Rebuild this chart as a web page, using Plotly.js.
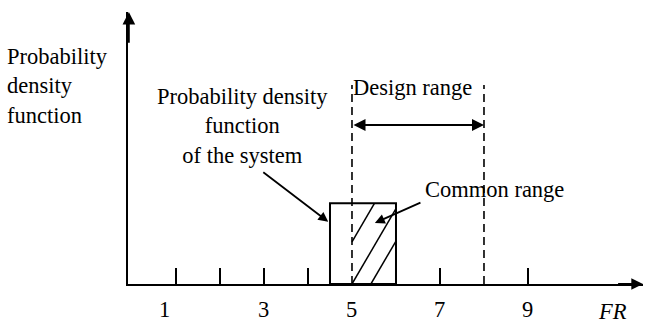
<!DOCTYPE html>
<html>
<head>
<meta charset="utf-8">
<script src="https://cdn.plot.ly/plotly-3.0.1.min.js"></script>
<style>html,body{margin:0;padding:0;background:#fff;}#chart{width:646px;height:325px;}</style>
</head>
<body>
<div id="chart"></div>
<script>
// ---- data ----
const tickValues = [1, 2, 3, 4, 6, 7, 9];
const tickLabels = ['1', '3', '5', '7', '9'];
const tickLabelValues = [0.75, 3, 5, 7, 9];
const systemRange = [4.5, 6];      // FR interval of the system pdf
const systemDensity = [1];         // height of the rectangle
const designRange = [5, 8];        // design range bounds
const hatchIntercepts = [4.44, 5.0, 5.43]; // hatch lines crossing y=0
const hatchSlope = 1.07;           // dx per dy of the hatch lines
const axisTitle = 'FR';
const yLabel = 'Probability<br>density<br>function';
const sysLabel = 'Probability density<br>function<br>of the system';
const designLabel = 'Design range';
const commonLabel = 'Common range';

// ---- layout helpers ----
const FONT = {family: '"Liberation Serif", "Times New Roman", serif', size: 22.5, color: '#000'};
const xMin = -0.0909, xMax = 11.614, yMax = 3.3705;
const dashTop = 2.466;
const toPaperX = v => (v - xMin) / (xMax - xMin);

const shapes = [];
shapes.push({type: 'rect', xref: 'x', yref: 'y', x0: systemRange[0], x1: systemRange[1],
  y0: 0, y1: systemDensity[0], line: {color: '#000', width: 2}, fillcolor: 'rgba(0,0,0,0)'});
designRange.forEach(v => shapes.push({type: 'line', xref: 'x', yref: 'y', x0: v, x1: v,
  y0: 0, y1: dashTop, line: {color: '#000', width: 1.6, dash: '8px,5px'}}));
const cx0 = Math.max(systemRange[0], designRange[0]);
const cx1 = Math.min(systemRange[1], designRange[1]);
const rectTop = systemDensity[0];
hatchIntercepts.forEach(b => {
  const ya = Math.max(0, (cx0 - b) / hatchSlope);
  const yb = Math.min(rectTop, (cx1 - b) / hatchSlope);
  if (yb > ya) {
    shapes.push({type: 'line', xref: 'x', yref: 'y', x0: b + hatchSlope * ya, y0: ya,
      x1: b + hatchSlope * yb, y1: yb, line: {color: '#000', width: 1.5}});
  }
});

const annotations = [];
annotations.push({x: xMax, y: 0, ax: xMax - 0.6, ay: 0, xref: 'x', yref: 'y', axref: 'x', ayref: 'y',
  text: '', showarrow: true, arrowhead: 2, arrowsize: 1.3, arrowwidth: 1.8, arrowcolor: '#000', standoff: 0});
annotations.push({x: xMin + 0.02, y: yMax, ax: xMin + 0.02, ay: yMax - 0.4, xref: 'x', yref: 'y', axref: 'x', ayref: 'y',
  text: '', showarrow: true, arrowhead: 2, arrowsize: 1.4, arrowwidth: 1.8, arrowcolor: '#000', standoff: 0});
// tick labels (below the plot area -> paper coordinates)
tickLabels.forEach((t, i) => annotations.push({x: toPaperX(tickLabelValues[i]), y: -0.095, xref: 'paper', yref: 'paper',
  text: t, showarrow: false, font: FONT, xanchor: 'center', yanchor: 'middle'}));
annotations.push({x: toPaperX(10.91), y: -0.1, xref: 'paper', yref: 'paper', text: '<i>' + axisTitle + '</i>',
  showarrow: false, font: FONT, xanchor: 'center', yanchor: 'middle'});
annotations.push({x: -0.239, y: 0.728, xref: 'paper', yref: 'paper', text: yLabel, showarrow: false,
  font: FONT, xanchor: 'left', yanchor: 'middle', align: 'left'});
annotations.push({x: 2.5, y: 1.96, xref: 'x', yref: 'y', text: sysLabel, showarrow: false,
  font: FONT, xanchor: 'center', yanchor: 'middle', align: 'center'});
annotations.push({x: systemRange[0] - 0.04, y: 0.77, ax: 2.95, ay: 1.40, xref: 'x', yref: 'y', axref: 'x', ayref: 'y',
  text: '', showarrow: true, arrowhead: 2, arrowsize: 1.1, arrowwidth: 1.8, arrowcolor: '#000', standoff: 0});
annotations.push({x: 6.386, y: 2.43, xref: 'x', yref: 'y', text: designLabel, showarrow: false,
  font: FONT, xanchor: 'center', yanchor: 'middle'});
annotations.push({x: designRange[1], y: 1.97, ax: designRange[0], ay: 1.97, xref: 'x', yref: 'y', axref: 'x', ayref: 'y',
  text: '', showarrow: true, arrowhead: 2, arrowside: 'end+start', arrowsize: 1.2, arrowwidth: 2, arrowcolor: '#000',
  standoff: 0, startstandoff: 0, startarrowhead: 2, startarrowsize: 1.2});
annotations.push({x: 8.25, y: 1.165, xref: 'x', yref: 'y', text: commonLabel, showarrow: false,
  font: FONT, xanchor: 'center', yanchor: 'middle'});
annotations.push({x: 5.52, y: 0.756, ax: 6.59, ay: 1.016, xref: 'x', yref: 'y', axref: 'x', ayref: 'y',
  text: '', showarrow: true, arrowhead: 2, arrowsize: 1.1, arrowwidth: 1.8, arrowcolor: '#000', standoff: 0});

const layout = {
  width: 646, height: 325,
  margin: {l: 128, r: 3, t: 12, b: 41, pad: 0},
  paper_bgcolor: '#fff', plot_bgcolor: '#fff',
  showlegend: false,
  font: FONT,
  xaxis: {range: [xMin, xMax], showgrid: false, zeroline: false, showline: true, linecolor: '#000', linewidth: 2,
    ticks: 'inside', tickvals: tickValues, ticklen: 16, tickwidth: 2, tickcolor: '#000', showticklabels: false, fixedrange: true},
  yaxis: {range: [0, yMax], showgrid: false, zeroline: false, showline: true, linecolor: '#000', linewidth: 2,
    ticks: '', showticklabels: false, fixedrange: true},
  shapes: shapes,
  annotations: annotations
};

Plotly.newPlot('chart', [{type: 'scatter', x: [], y: [], mode: 'lines', hoverinfo: 'skip'}], layout,
  {staticPlot: true, displayModeBar: false});
</script>
</body>
</html>
